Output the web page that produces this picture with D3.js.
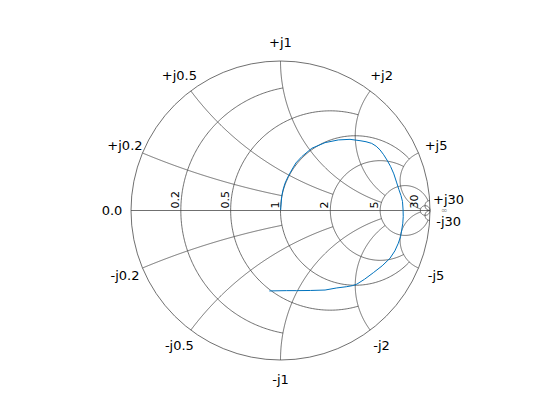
<!DOCTYPE html>
<html>
<head>
<meta charset="utf-8">
<script src="https://cdn.jsdelivr.net/npm/d3@7"></script>
<style>
html,body{margin:0;padding:0;background:#fff;}
svg{display:block;}
</style>
</head>
<body>
<svg id="chart" width="560" height="420"></svg>
<script>
// ---- grid definition (MATLAB smithplot default style) ----
const gridValues = [0.2, 0.5, 1, 2, 5, 30];
const gridLimits = [1, 2, 5, 5, 30, Infinity];
const resistanceLabels = ["0.2", "0.5", "1", "2", "5", "30"];
const reactanceLabelsPos = ["+j0.2", "+j0.5", "+j1", "+j2", "+j5", "+j30"];
const reactanceLabelsNeg = ["-j0.2", "-j0.5", "-j1", "-j2", "-j5", "-j30"];

// ---- data: reflection coefficient ----
const gammaRe = [-0.075, 0.041, 0.108, 0.200, 0.298, 0.376, 0.440, 0.480, 0.510, 0.562, 0.621, 0.680, 0.732, 0.765, 0.788, 0.803, 0.811, 0.818, 0.821, 0.820, 0.816, 0.806, 0.792, 0.776, 0.758, 0.736, 0.712, 0.690, 0.666, 0.640, 0.610, 0.572, 0.532, 0.465, 0.387, 0.298, 0.209, 0.142, 0.103, 0.075, 0.050, 0.030, 0.016, 0.008, 0.001];
const gammaIm = [-0.538, -0.536, -0.536, -0.535, -0.532, -0.518, -0.510, -0.503, -0.493, -0.460, -0.416, -0.370, -0.320, -0.270, -0.219, -0.175, -0.130, -0.085, -0.041, 0.003, 0.060, 0.100, 0.140, 0.190, 0.245, 0.295, 0.338, 0.373, 0.405, 0.430, 0.449, 0.460, 0.467, 0.476, 0.472, 0.454, 0.416, 0.360, 0.318, 0.271, 0.225, 0.182, 0.135, 0.092, 0.003];

const cx = 280.5, cy = 210.5, R = 149.5;
const xScale = d3.scaleLinear().domain([-1, 1]).range([cx - R, cx + R]);
const yScale = d3.scaleLinear().domain([-1, 1]).range([cy + R, cy - R]);

const svg = d3.select("#chart");
const gridColor = "#404040";
const line = d3.line().x(d => xScale(d[0])).y(d => yScale(d[1]));

// z -> gamma
function gamma(r, x) {
  // Gamma = 1 - 2/(z+1)
  const a = r + 1, b = x;
  const den = a * a + b * b;
  return [1 - 2 * a / den, 2 * b / den];
}

const gGrid = svg.append("g").attr("fill", "none").attr("stroke", gridColor).attr("stroke-width", 0.75);

// outer circle (r = 0)
gGrid.append("circle").attr("cx", xScale(0)).attr("cy", yScale(0)).attr("r", xScale(1) - xScale(0));
// real axis
gGrid.append("path").attr("d", line([[-1, 0], [1, 0]]));

const N = 240;
gridValues.forEach((v, i) => {
  const L = gridLimits[i];
  // resistance circle r = v, for |x| <= L
  const tmax = Math.atan(L / (v + 1));
  const pts = d3.range(N + 1).map(k => {
    const t = -tmax + 2 * tmax * k / N;
    return gamma(v, (v + 1) * Math.tan(t));
  });
  gGrid.append("path").attr("d", line(pts));
  // reactance arcs x = +/- v, for 0 <= r <= L
  const t0 = Math.atan(1 / v), t1 = Math.atan((L + 1) / v);
  [1, -1].forEach(s => {
    const p2 = d3.range(N + 1).map(k => {
      const t = t0 + (t1 - t0) * k / N;
      const rr = v * Math.tan(t) - 1;
      return gamma(Math.max(rr, 0), s * v);
    });
    gGrid.append("path").attr("d", line(p2));
  });
});

// ---- labels ----
const font = "DejaVu Sans, Liberation Sans, sans-serif";
const lr = 1 + 19 / R;
const gLab = svg.append("g").attr("font-family", font).attr("fill", "#000");
gridValues.forEach((v, i) => {
  [[1, reactanceLabelsPos[i]], [-1, reactanceLabelsNeg[i]]].forEach(([s, txt]) => {
    const g = gamma(0, s * v);
    gLab.append("text")
      .attr("x", xScale(g[0] * lr)).attr("y", yScale(g[1] * lr))
      .attr("text-anchor", "middle").attr("dominant-baseline", "central")
      .attr("font-size", 13).text(txt);
  });
  const g0 = gamma(v, 0);
  const px = xScale(g0[0]) - 2, py = yScale(0) - 2;
  gLab.append("text")
    .attr("transform", `translate(${px},${py}) rotate(-90)`)
    .attr("font-size", 11).attr("text-anchor", "start")
    .text(resistanceLabels[i]);
});
gLab.append("text")
  .attr("x", xScale(-lr)).attr("y", yScale(0))
  .attr("text-anchor", "middle").attr("dominant-baseline", "central")
  .attr("font-size", 13).text("0.0");
gLab.append("text")
  .attr("x", xScale(1) + 14).attr("y", yScale(0))
  .attr("text-anchor", "middle").attr("dominant-baseline", "central")
  .attr("font-size", 8).attr("fill", "#999").text("∞");

// ---- data curve ----
const data = gammaRe.map((d, i) => [d, gammaIm[i]]);
svg.append("path")
  .attr("d", d3.line().x(d => xScale(d[0])).y(d => yScale(d[1])).curve(d3.curveLinear)(data))
  .attr("fill", "none").attr("stroke", "#0072BD").attr("stroke-width", 1);
</script>
</body>
</html>
